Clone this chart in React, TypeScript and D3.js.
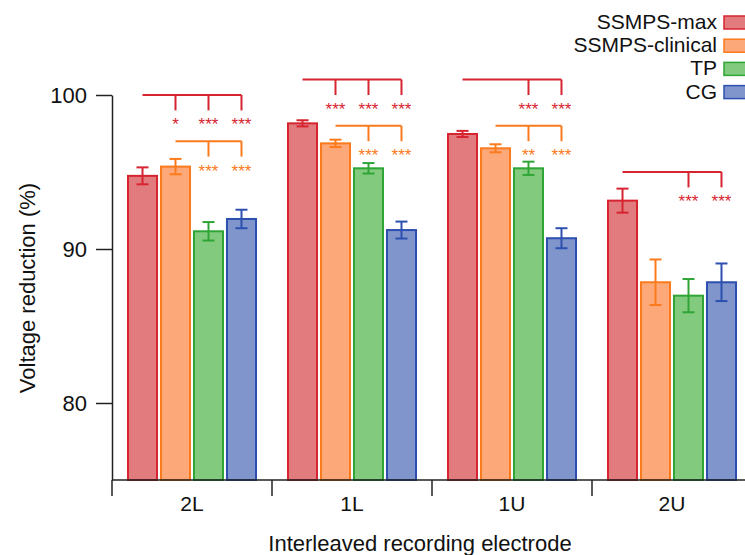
import { useEffect, useRef } from 'react';
import * as d3 from 'd3';

const groups = ['2L', '1L', '1U', '2U'];
const seriesNames = ['SSMPS-max', 'SSMPS-clinical', 'TP', 'CG'];

const maxMeans = [94.75, 98.16, 97.47, 93.14];
const clinicalMeans = [95.35, 96.86, 96.54, 87.84];
const tpMeans = [91.15, 95.24, 95.24, 86.97];
const cgMeans = [91.95, 91.23, 90.7, 87.84];

const maxErr = [0.55, 0.2, 0.2, 0.78];
const clinicalErr = [0.5, 0.24, 0.26, 1.48];
const tpErr = [0.6, 0.34, 0.43, 1.08];
const cgErr = [0.6, 0.55, 0.65, 1.22];

const yTicks = [80, 90, 100];

// significance brackets: from series index -> compared series, with star labels
const brackets = [
  { group: '2L', from: 0, to: [1, 2, 3], stars: ['*', '***', '***'], level: 100 },
  { group: '2L', from: 1, to: [2, 3], stars: ['***', '***'], level: 97 },
  { group: '1L', from: 0, to: [1, 2, 3], stars: ['***', '***', '***'], level: 101 },
  { group: '1L', from: 1, to: [2, 3], stars: ['***', '***'], level: 98 },
  { group: '1U', from: 0, to: [2, 3], stars: ['***', '***'], level: 101 },
  { group: '1U', from: 1, to: [2, 3], stars: ['**', '***'], level: 98 },
  { group: '2U', from: 0, to: [2, 3], stars: ['***', '***'], level: 95 },
];

const fills = ['#e27b7e', '#fda878', '#82cb7e', '#7f95cc'];
const strokes = ['#d62430', '#fb7a1c', '#2fa536', '#2d4fb0'];

const FONT = '"Liberation Sans", Arial, sans-serif';

function App() {
  const svgRef = useRef<SVGSVGElement>(null);

  useEffect(() => {
    const svg = d3.select(svgRef.current);
    svg.selectAll('*').remove();

    const means = [maxMeans, clinicalMeans, tpMeans, cgMeans];
    const errs = [maxErr, clinicalErr, tpErr, cgErr];
    const axisColor = '#222';

    const x0 = d3.scaleBand().domain(groups).range([112, 752]).padding(0);
    const x1 = d3
      .scaleBand()
      .domain(d3.range(seriesNames.length).map(String))
      .range([16, x0.bandwidth() - 16])
      .paddingInner(0.12);
    const y = d3.scaleLinear().domain([75, 100]).range([480, 95]);

    const cx = (g: string, s: number) => x0(g)! + x1(String(s))! + x1.bandwidth() / 2;

    // bars
    const data = groups.flatMap((g, gi) =>
      seriesNames.map((_, si) => ({ g, si, v: means[si][gi], e: errs[si][gi] }))
    );

    svg
      .append('g')
      .selectAll('rect')
      .data(data)
      .enter()
      .append('rect')
      .attr('x', (d) => x0(d.g)! + x1(String(d.si))!)
      .attr('y', (d) => y(d.v))
      .attr('width', x1.bandwidth())
      .attr('height', (d) => y(75) - y(d.v))
      .attr('fill', (d) => fills[d.si])
      .attr('stroke', (d) => strokes[d.si])
      .attr('stroke-width', 2);

    // error bars
    const eg = svg.append('g').attr('fill', 'none').attr('stroke-width', 2);
    data.forEach((d) => {
      const c = cx(d.g, d.si);
      const col = strokes[d.si];
      eg.append('line').attr('x1', c).attr('x2', c).attr('y1', y(d.v + d.e)).attr('y2', y(d.v - d.e)).attr('stroke', col);
      [d.v + d.e, d.v - d.e].forEach((v) => {
        eg.append('line').attr('x1', c - 6).attr('x2', c + 6).attr('y1', y(v)).attr('y2', y(v)).attr('stroke', col);
      });
    });

    // brackets
    const bg = svg.append('g').attr('fill', 'none');
    brackets.forEach((b) => {
      const col = strokes[b.from];
      const yl = y(b.level);
      const xs = cx(b.group, b.from);
      const xe = cx(b.group, b.to[b.to.length - 1]);
      bg.append('line').attr('x1', xs).attr('x2', xe).attr('y1', yl).attr('y2', yl).attr('stroke', col).attr('stroke-width', 2);
      b.to.forEach((t, i) => {
        const xt = cx(b.group, t);
        bg.append('line').attr('x1', xt).attr('x2', xt).attr('y1', yl).attr('y2', y(b.level - 1)).attr('stroke', col).attr('stroke-width', 2);
        svg
          .append('text')
          .attr('x', xt)
          .attr('y', y(b.level - 1) + 20)
          .attr('text-anchor', 'middle')
          .attr('fill', col)
          .style('font-family', FONT)
          .style('font-size', '17px')
          .text(b.stars[i]);
      });
    });

    // y axis
    const yAxis = svg
      .append('g')
      .attr('transform', 'translate(112,0)')
      .call(d3.axisLeft(y).tickValues(yTicks).tickSize(16).tickPadding(9).tickSizeOuter(0));
    yAxis.select('.domain').attr('stroke', axisColor).attr('stroke-width', 1.5);
    yAxis.selectAll('.tick line').attr('stroke', axisColor).attr('stroke-width', 1.5);
    yAxis.selectAll('.tick text').attr('fill', '#111').style('font-family', FONT).style('font-size', '22px');

    // x axis: ticks at group boundaries, labels at centers
    const xg = svg.append('g');
    xg.append('line').attr('x1', 112).attr('x2', 752).attr('y1', 480).attr('y2', 480).attr('stroke', axisColor).attr('stroke-width', 1.5);
    groups.forEach((g) => {
      xg.append('line').attr('x1', x0(g)!).attr('x2', x0(g)!).attr('y1', 480).attr('y2', 496).attr('stroke', axisColor).attr('stroke-width', 1.5);
      xg.append('text')
        .attr('x', x0(g)! + x0.bandwidth() / 2)
        .attr('y', 511)
        .attr('text-anchor', 'middle')
        .attr('fill', '#111')
        .style('font-family', FONT)
        .style('font-size', '21px')
        .text(g);
    });

    // axis titles
    svg
      .append('text')
      .attr('x', 420)
      .attr('y', 551)
      .attr('text-anchor', 'middle')
      .attr('fill', '#111')
      .style('font-family', FONT)
      .style('font-size', '22px')
      .text('Interleaved recording electrode');
    svg
      .append('text')
      .attr('transform', 'translate(35,288) rotate(-90)')
      .attr('text-anchor', 'middle')
      .attr('fill', '#111')
      .style('font-family', FONT)
      .style('font-size', '22px')
      .text('Voltage reduction (%)');

    // legend
    const lg = svg.append('g');
    seriesNames.forEach((s, i) => {
      const ly = 22 + i * 23.2;
      lg.append('text')
        .attr('x', 717)
        .attr('y', ly + 7)
        .attr('text-anchor', 'end')
        .attr('fill', '#111')
        .style('font-family', FONT)
        .style('font-size', '21px')
        .text(s);
      lg.append('rect')
        .attr('x', 724)
        .attr('y', ly - 6)
        .attr('width', 24)
        .attr('height', 13)
        .attr('fill', fills[i])
        .attr('stroke', strokes[i])
        .attr('stroke-width', 1.5);
    });
  }, []);

  return (
    <div className="chart">
      <svg ref={svgRef} width="745" height="555" style={{ position: 'absolute', left: 0, top: 0, background: '#fff' }} />
    </div>
  );
}

export default App;
